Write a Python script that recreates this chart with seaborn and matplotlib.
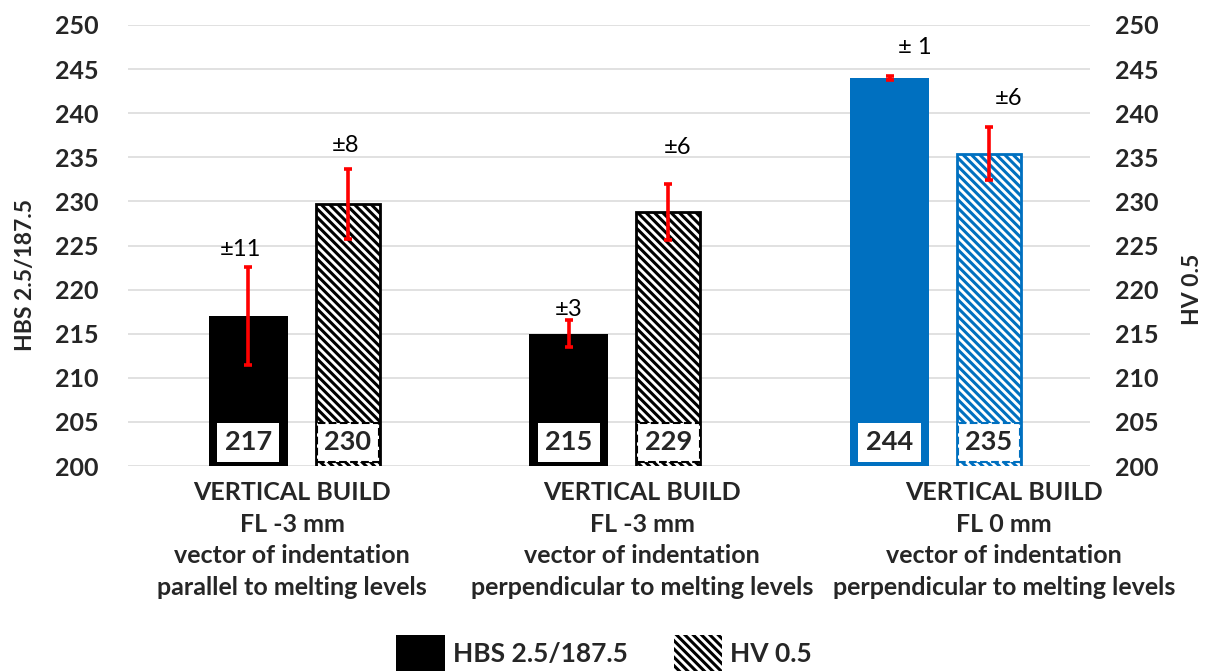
import matplotlib
matplotlib.use("Agg")
import matplotlib.pyplot as plt
import seaborn as sns
import pandas as pd
from matplotlib.patches import Patch

# ---------------- data ----------------
categories = [
    "VERTICAL BUILD\nFL -3 mm\nvector of indentation\nparallel to melting levels",
    "VERTICAL BUILD\nFL -3 mm\nvector of indentation\nperpendicular to melting levels",
    "VERTICAL BUILD\nFL 0 mm\nvector of indentation\nperpendicular to melting levels",
]
hbs_values = [217, 215, 244]
hbs_err = [5.6, 1.5, 0.2]
hbs_err_labels = ["±11", "±3", "± 1"]
hv_values = [229.7, 228.8, 235.4]
hv_err = [4.0, 3.2, 3.0]
hv_err_labels = ["±8", "±6", "±6"]
series_names = ["HBS 2.5/187.5", "HV 0.5"]
y_ticks = list(range(200, 251, 5))

# ---------------- style ----------------
bar_colors = ["#000000", "#000000", "#0070C0"]
HBS_OFFSET, HV_OFFSET = -0.125, 0.185
HBS_W, HV_W = 0.246, 0.20
label_shift = [0.012, 0.103, 0.232]
hbs_lbl_off = [(-8, 17), (0, 11), (25, 29)]   # pixels (dx, dy)
hv_lbl_off = [(-2, 23), (9, 36), (20, 29)]
HATCH = "\\\\\\\\"

sns.set_theme(style="white")
plt.rcParams["font.family"] = ["Lato", "DejaVu Sans"]
plt.rcParams["hatch.linewidth"] = 2.2

fig = plt.figure(figsize=(12.07, 6.71), dpi=100)
ax = fig.add_axes([128 / 1207, 1 - 466 / 671, 962 / 1207, 441 / 671])
ax2 = ax.twinx()

idx = list(range(len(categories)))
df_hbs = pd.DataFrame({"pos": [i + HBS_OFFSET for i in idx], "value": hbs_values})
df_hv = pd.DataFrame({"pos": [i + HV_OFFSET for i in idx], "value": hv_values})

sns.barplot(data=df_hbs, x="pos", y="value", native_scale=True, width=HBS_W,
            color="black", errorbar=None, saturation=1, ax=ax, zorder=2)
sns.barplot(data=df_hv, x="pos", y="value", native_scale=True, width=HV_W,
            color="white", errorbar=None, saturation=1, ax=ax2, zorder=2)

for p, c in zip(ax.patches, bar_colors):
    p.set_facecolor(c)
    p.set_edgecolor(c)
    p.set_linewidth(0)
for p, c in zip(ax2.patches, bar_colors):
    p.set_facecolor("white")
    p.set_edgecolor(c)
    p.set_hatch(HATCH)
    p.set_linewidth(2.0)

# error bars
ax.errorbar(df_hbs["pos"], hbs_values, yerr=hbs_err, fmt="none", ecolor="red",
            elinewidth=2.6, capsize=3, capthick=2.6, zorder=5)
ax2.errorbar(df_hv["pos"], hv_values, yerr=hv_err, fmt="none", ecolor="red",
             elinewidth=2.6, capsize=3, capthick=2.6, zorder=5)

# ± labels
for x, v, e, t, off in zip(df_hbs["pos"], hbs_values, hbs_err, hbs_err_labels, hbs_lbl_off):
    ax.annotate(t, (x, v + e), xytext=off, textcoords="offset pixels",
                ha="center", va="center", fontsize=17, color="black", zorder=7)
for x, v, e, t, off in zip(df_hv["pos"], hv_values, hv_err, hv_err_labels, hv_lbl_off):
    ax2.annotate(t, (x, v + e), xytext=off, textcoords="offset pixels",
                 ha="center", va="center", fontsize=17, color="black", zorder=7)

# value boxes
for x, v in zip(df_hbs["pos"], hbs_values):
    ax.text(x, 202.7, f"{v:.0f}", ha="center", va="center", fontsize=19.5,
            fontweight="bold", zorder=6,
            bbox=dict(boxstyle="square,pad=0.28", fc="white", ec="none"))
for x, v, c in zip(df_hv["pos"], hv_values, bar_colors):
    ax2.text(x, 202.7, f"{v:.0f}", ha="center", va="center", fontsize=19.5,
             fontweight="bold", zorder=6,
             bbox=dict(boxstyle="square,pad=0.28", fc="white", ec=c, ls="--", lw=1.5))

# axes
for a in (ax, ax2):
    a.set_ylim(200, 250)
    a.set_yticks(y_ticks)
    a.set_yticklabels([str(t) for t in y_ticks], fontsize=18, fontweight="bold")
    for s in a.spines.values():
        s.set_visible(False)
ax.set_xlim(-0.5, 2.5)
ax.set_xticks([i + s for i, s in zip(idx, label_shift)])
ax.set_xticklabels(categories, fontsize=18, fontweight="bold", linespacing=1.45)
ax.tick_params(axis="x", length=0, pad=11)
ax.tick_params(axis="y", length=0, pad=21)
ax2.tick_params(axis="y", length=0, pad=18)
ax.set_axisbelow(True)
ax.yaxis.grid(True, color="#d9d9d9", lw=1.1)
ax.xaxis.grid(False)
ax2.grid(False)
ax.set_xlabel("")
ax2.set_xlabel("")
ax.set_ylabel("HBS 2.5/187.5", fontsize=16.5, fontweight="bold")
ax.yaxis.set_label_coords(-0.0956, 0.433)
ax2.set_ylabel("HV 0.5", fontsize=16.5, fontweight="bold")
ax2.yaxis.set_label_coords(1.0956, 0.40)

handles = [Patch(facecolor="black", edgecolor="black", lw=0),
           Patch(facecolor="white", edgecolor="black", hatch=HATCH, lw=0)]
fig.legend(handles, series_names, loc="center", bbox_to_anchor=(604 / 1207, 1 - 653 / 671),
           ncol=2, frameon=False, prop=dict(weight="bold", size=19),
           handlelength=1.85, handleheight=1.7, handletextpad=0.28, columnspacing=1.75)

fig.savefig("out.png", dpi=100)
